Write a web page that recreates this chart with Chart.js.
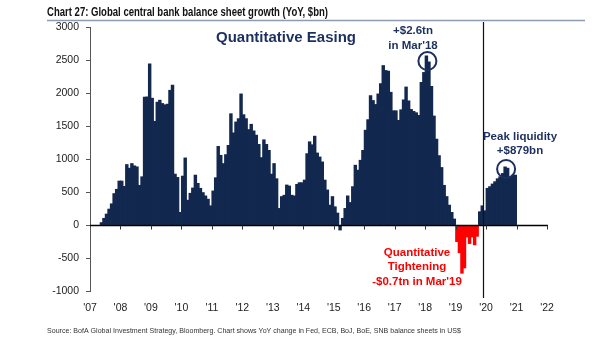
<!DOCTYPE html>
<html>
<head>
<meta charset="utf-8">
<script src="https://cdn.jsdelivr.net/npm/chart.js@4.4.1/dist/chart.umd.min.js"></script>
<style>
  html, body { margin: 0; padding: 0; background: #fff; }
  #wrap { width: 605px; height: 341px; }
</style>
</head>
<body>
<div id="wrap"><canvas id="chart" width="605" height="341"></canvas></div>
<script>
// YoY change in Fed + ECB + BoJ + BoE + SNB balance sheets, $bn, one value per month
const firstYear = 2007;
const bn2007 = [null, null, null, null, 35, 100, 165, 240, 320, 475, 540, 665];
const bn2008 = [665, 585, 915, 860, 930, 895, 880, 600, 730, 1935, 1940, 2440];
const bn2009 = [1920, 1570, 1860, 1890, 1840, 1820, 1830, 2040, 2120, 770, 720, 190];
const bn2010 = [740, 1015, 375, 480, 560, 755, 630, 555, 490, 440, 390, 290];
const bn2011 = [515, 715, 1190, 1055, 930, 1065, 1205, 1685, 1395, 1560, 1610, 1985];
const bn2012 = [1670, 1610, 1445, 1525, 1425, 1360, 1220, 1020, 1290, 1220, 1130, 770];
const bn2013 = [930, 700, 250, 430, 450, 605, 590, 450, 440, 615, 640, 640];
const bn2014 = [680, 1080, 1260, 1215, 1345, 1090, 1030, 955, 680, 530, 300, 430];
const bn2015 = [275, 180, -75, 100, 250, 440, 340, 580, 905, 830, 980, 1130];
const bn2016 = [1435, 1595, 1960, 1885, 1825, 1985, 2140, 2415, 2340, 2330, 2010, 1730];
const bn2017 = [1730, 1585, 1745, 1895, 2090, 1880, 1750, 1720, 1700, 1660, 2160, 2310];
const bn2018 = [2560, 2470, 2100, 1650, 1300, 1050, 870, 600, 430, 300, 190, 90];
const bn2019 = [-250, -420, -730, -650, -180, -280, -180, -300, -170, 200, 290, 215];
const bn2020 = [555, 580, 620, 655, 700, 730, 780, 879, 860, 730, 755, 755];

// quantitative tightening window (drawn in red)
const qtFrom = 2019, qtTo = 2019.75;
// vertical marker between the QT and the 2020 easing
const turnYear = 2019.91;

const yearLabels = ["'07", "'08", "'09", "'10", "'11", "'12", "'13", "'14",
                    "'15", "'16", "'17", "'18", "'19", "'20", "'21", "'22"];
const yMin = -1000, yMax = 3000, yStep = 500;

const monthly = [].concat(bn2007, bn2008, bn2009, bn2010, bn2011, bn2012, bn2013,
                          bn2014, bn2015, bn2016, bn2017, bn2018, bn2019, bn2020);
const points = monthly.map((v, i) => ({ x: firstYear + (i + 0.5) / 12, y: v }));

const NAVY = '#12284f';
const INK = '#1c2f5f';
const RED = '#ff0000';
const barColors = points.map(p => (p.x >= qtFrom && p.x < qtTo) ? RED : NAVY);

function peakIndex(from, to) {
  let best = from;
  for (let i = from; i < to; i++) if (monthly[i] > monthly[best]) best = i;
  return best;
}
const qePeak = peakIndex(0, monthly.length - 24);       // 2018 high
const liqPeak = peakIndex(monthly.length - 12, monthly.length); // 2020 high

function lines(ctx, rows, x, y, gap) {
  rows.forEach((t, k) => ctx.fillText(t, x, y + k * gap));
}

const decorations = {
  id: 'decorations',
  afterDatasetsDraw(chart) {
    const { ctx, chartArea: a, scales: { x, y } } = chart;
    ctx.save();

    // zero line with year ticks
    const y0 = Math.round(y.getPixelForValue(0)) + 0.5;
    ctx.strokeStyle = '#000';
    ctx.lineWidth = 1.6;
    ctx.beginPath();
    ctx.moveTo(a.left, y0);
    ctx.lineTo(a.right + 1, y0);
    ctx.stroke();
    ctx.lineWidth = 1;
    ctx.strokeStyle = '#333';
    ctx.beginPath();
    for (let yr = firstYear + 1; yr <= firstYear + yearLabels.length - 1; yr++) {
      const px = Math.round(x.getPixelForValue(yr)) + 0.5;
      ctx.moveTo(px, y0);
      ctx.lineTo(px, y0 + 4);
    }
    ctx.stroke();

    // vertical marker
    const vx = Math.round(x.getPixelForValue(turnYear)) + 0.5;
    ctx.strokeStyle = '#111';
    ctx.lineWidth = 1.2;
    ctx.beginPath();
    ctx.moveTo(vx, a.top - 5);
    ctx.lineTo(vx, a.bottom + 7);
    ctx.stroke();

    // circles round the two highs
    ctx.strokeStyle = INK;
    ctx.lineWidth = 2;
    [[qePeak, 5], [liqPeak, 2]].forEach(([i, dy]) => {
      const cx = x.getPixelForValue(points[i].x) + 1;
      const cy = y.getPixelForValue(points[i].y) + dy;
      ctx.beginPath();
      ctx.arc(cx, cy, 9, 0, Math.PI * 2);
      ctx.stroke();
    });

    // annotations
    ctx.textAlign = 'center';
    ctx.textBaseline = 'middle';
    ctx.fillStyle = INK;
    ctx.font = 'bold 15px "Liberation Sans", Arial, sans-serif';
    ctx.fillText('Quantitative Easing', 286, 38);
    ctx.font = 'bold 11.5px "Liberation Sans", Arial, sans-serif';
    lines(ctx, ['+$' + (monthly[qePeak] / 1000).toFixed(1) + 'tn', "in Mar'18"], 413, 31, 14.5);
    lines(ctx, ['Peak liquidity', '+$' + monthly[liqPeak] + 'bn'], 520, 136.5, 14);
    ctx.fillStyle = RED;
    const qtLow = Math.min(...bn2019);
    lines(ctx, ['Quantitative', 'Tightening',
                '-$' + (-qtLow / 1000).toFixed(1) + "tn in Mar'19"], 417, 252.5, 14.5);
    ctx.restore();
  },
  afterDraw(chart) {
    const { ctx } = chart;
    ctx.save();
    ctx.fillStyle = '#111';
    ctx.textAlign = 'left';
    ctx.textBaseline = 'alphabetic';
    ctx.font = 'bold 13px "Liberation Sans Narrow", "Liberation Sans", sans-serif';
    ctx.fillText('Chart 27: Global central bank balance sheet growth (YoY, $bn)', 47, 16, 281);
    ctx.strokeStyle = '#8e9ab0';
    ctx.lineWidth = 1.5;
    ctx.beginPath();
    ctx.moveTo(47, 20.5);
    ctx.lineTo(585, 20.5);
    ctx.stroke();
    ctx.fillStyle = '#333';
    ctx.font = '8px "Liberation Sans Narrow", "Liberation Sans", sans-serif';
    ctx.textBaseline = 'middle';
    ctx.fillText('Source: BofA Global Investment Strategy, Bloomberg. Chart shows YoY change in Fed, ECB, BoJ, BoE, SNB balance sheets in US$', 47, 331, 414);
    ctx.restore();
  }
};

const tickFont = { family: '"Liberation Sans", Arial, sans-serif', size: 10.5 };

new Chart(document.getElementById('chart').getContext('2d'), {
  type: 'bar',
  data: {
    datasets: [{
      data: points,
      backgroundColor: barColors,
      borderWidth: 0,
      barPercentage: 1,
      categoryPercentage: 1,
      inflateAmount: 0.45
    }]
  },
  options: {
    responsive: false,
    animation: false,
    layout: { padding: { top: 27, right: 58, bottom: 0, left: 0 } },
    plugins: { legend: { display: false }, tooltip: { enabled: false } },
    scales: {
      x: {
        type: 'linear',
        offset: false,
        min: firstYear,
        max: firstYear + yearLabels.length - 1,
        ticks: {
          stepSize: 1,
          autoSkip: false,
          maxRotation: 0,
          padding: 3,
          color: '#222',
          font: tickFont,
          callback: v => yearLabels[v - firstYear]
        },
        grid: { display: false },
        border: { display: false },
        afterFit(s) { s.height = 50; }
      },
      y: {
        min: yMin,
        max: yMax,
        ticks: { stepSize: yStep, padding: 7, color: '#222', font: tickFont, callback: v => String(v) },
        grid: { drawOnChartArea: false, drawTicks: true, tickLength: 4, color: '#555' },
        border: { display: true, color: '#555', width: 1 },
        afterFit(s) { s.width = 90; }
      }
    }
  },
  plugins: [decorations]
});
</script>
</body>
</html>
